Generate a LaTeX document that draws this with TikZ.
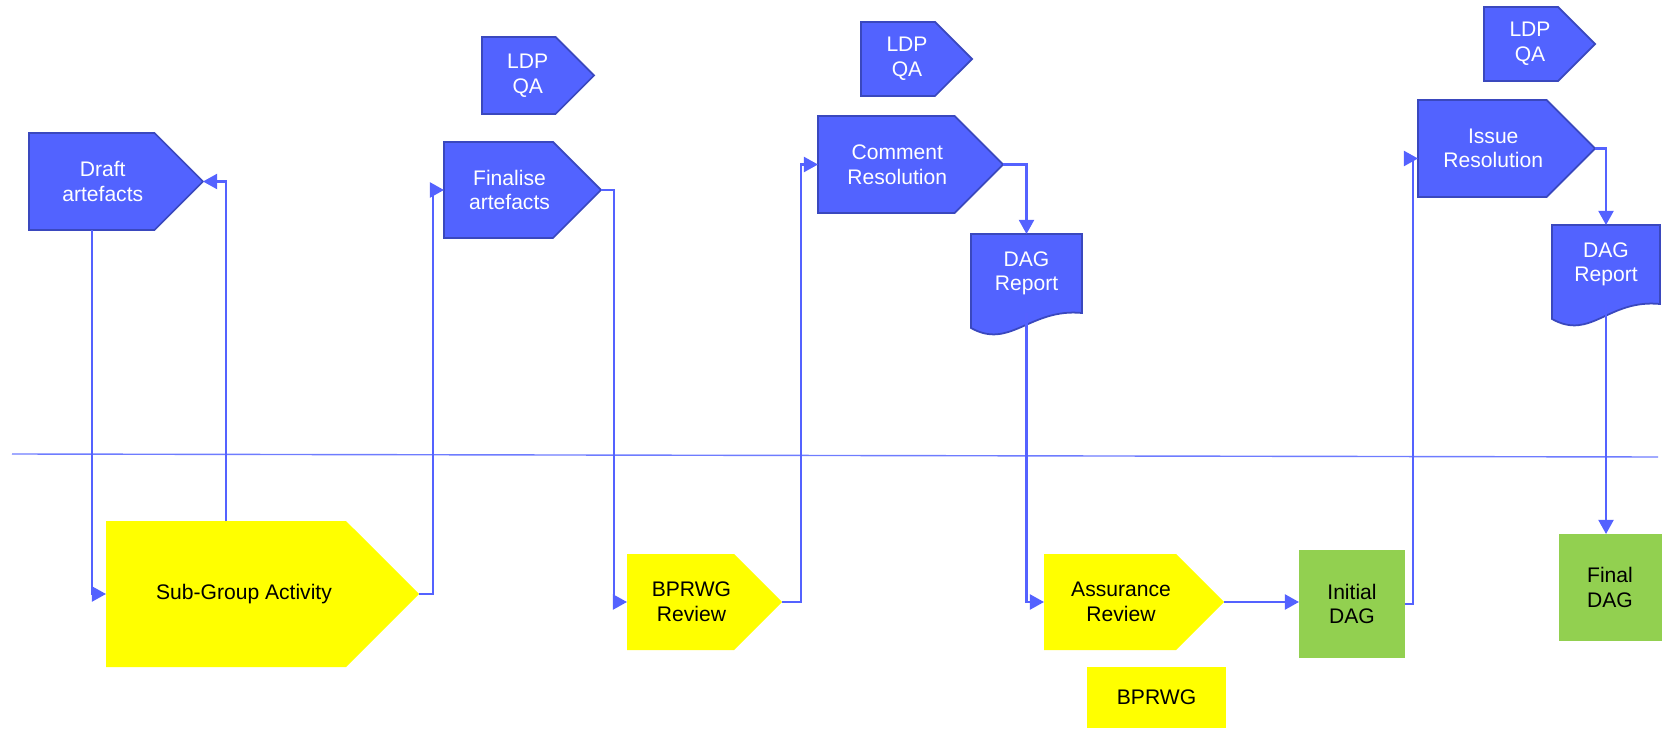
\documentclass[tikz,border=0pt]{standalone}
\usepackage{fontspec}
\setmainfont{Liberation Sans}
\usepackage{tikz}
\usetikzlibrary{arrows.meta, shapes.symbols, backgrounds}
\definecolor{flowblue}{RGB}{82, 99, 255}
\definecolor{flowedge}{RGB}{58, 72, 190}
\definecolor{lineblue}{RGB}{84, 98, 255}
\definecolor{sepblue}{RGB}{110, 124, 255}
\definecolor{niceyellow}{RGB}{255, 255, 0}
\definecolor{nicegreen}{RGB}{146, 208, 80}
\newdimen\px \px=0.02cm

\begin{document}
\begin{tikzpicture}[x=0.02cm, y=-0.02cm, > = {Triangle[length=8pt,width=8.5pt]},
	every node/.style={font=\fontsize{12}{14}\selectfont, align=center, inner sep=0pt, outer sep=0pt},
	bluesig/.style={shape=signal, signal to=east, anchor=west, fill=flowblue, draw=flowedge, line width=1pt},
	yellowsig/.style={shape=signal, signal to=east, anchor=west, fill=niceyellow},
	whitetext/.style={text=white, xshift=#1},
	blacktext/.style={text=black, xshift=#1},
	docnode/.style={shape=rectangle, text=white},
	greenbox/.style={shape=rectangle, fill=nicegreen},
	yellowbox/.style={shape=rectangle, fill=niceyellow},
	conn/.style={->, draw=lineblue, line width=1.3pt}]
	\useasboundingbox (0,0) rectangle (1663,729);

	% upper row
	\node[bluesig, minimum width=174\px, minimum height=97\px, label={[whitetext=11\px]center:Draft\\artefacts}] (draft) at (29,181.5) {};
	\node[bluesig, minimum width=112\px, minimum height=77\px, label={[whitetext=9\px]center:LDP\\QA}] (qaA) at (482,75.5) {};
	\node[bluesig, minimum width=157\px, minimum height=96\px, label={[whitetext=11\px]center:Finalise\\artefacts}] (final) at (444,190) {};
	\node[bluesig, minimum width=111\px, minimum height=74\px, label={[whitetext=9\px]center:LDP\\QA}] (qaB) at (861,59) {};
	\node[bluesig, minimum width=185\px, minimum height=97\px, label={[whitetext=11\px]center:Comment\\Resolution}] (comment) at (818,164.5) {};
	\node[docnode, minimum width=111\px, minimum height=79\px] (dagA) at (1026.5,273.5) {DAG\\Report};
	\node[bluesig, minimum width=111\px, minimum height=74\px, label={[whitetext=9\px]center:LDP\\QA}] (qaC) at (1484,44) {};
	\node[bluesig, minimum width=177\px, minimum height=97\px, label={[whitetext=11\px]center:Issue\\Resolution}] (issue) at (1418,148.5) {};
	\node[docnode, minimum width=108\px, minimum height=79\px] (dagB) at (1606,264.5) {DAG\\Report};

	% document shapes
	\begin{scope}[on background layer]
		\foreach \d in {dagA, dagB}
			\draw[fill=flowblue, draw=flowedge, line width=1pt] (\d.south east) -- (\d.north east) -- (\d.north west) -- ([yshift=-0.3cm]\d.south west) .. controls +(39,22) and +(-52,-5) .. (\d.south east) -- cycle;
	\end{scope}

	% divider
	\draw[sepblue, line width=0.8pt] (12,454) -- (1658,457);

	% lower row
	\node[yellowsig, minimum width=313\px, minimum height=146\px, label={[blacktext=18\px]center:Sub-Group Activity}] (subgroup) at (106,594) {};
	\node[yellowsig, minimum width=155\px, minimum height=96\px, label={[blacktext=11\px]center:BPRWG\\Review}] (review) at (627,602) {};
	\node[yellowsig, minimum width=180\px, minimum height=96\px, label={[blacktext=11\px]center:Assurance\\Review}] (assure) at (1044,602) {};
	\node[yellowbox, minimum width=139\px, minimum height=61\px] (bprwg) at (1156.5,697.5) {BPRWG};
	\node[greenbox, minimum width=106\px, minimum height=108\px] (initdag) at (1352,604) {Initial\\DAG};
	\node[greenbox, minimum width=103\px, minimum height=107\px] (finaldag) at (1610,587.5) {Final\\DAG};

	% connectors
	\draw[conn] (draft.south) |- (subgroup.west);
	\draw[conn] (subgroup.north) |- (draft.east);
	\draw[conn] (subgroup.east) -- ++(14,0) |- (final.west);
	\draw[conn] (final.east) -- ++(13,0) |- (review.west);
	\draw[conn] (review.east) -- ++(19,0) |- (comment.west);
	\draw[conn] (comment.east) -| (dagA.north);
	\draw[conn] (dagA.south) |- (assure.west);
	\draw[conn] (assure.east) -- (assure.east -| initdag.west);
	\draw[conn] (initdag.east) -- ++(8,0) |- ([yshift=-0.2cm]issue.west);
	\draw[conn] (issue.east) -| (dagB.north);
	\draw[conn] (dagB.south) -- (dagB.south |- finaldag.north);
\end{tikzpicture}
\end{document}
